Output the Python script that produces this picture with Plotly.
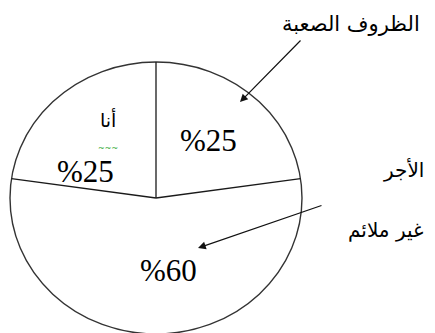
import numpy as np
import plotly.graph_objects as go

# slices, going round from the vertical line: me / hard conditions / low wage
labels = ['أنا', 'الظروف الصعبة', 'الأجر غير ملائم']
values = [25, 25, 60]
pct_labels = ['%25', '%25', '%60']

W, H = 435, 333
# where the ellipse sits in the window (pixels)
CX, CY, RX, RY = 156, 198, 146, 136


def paper(px, py):
    return px / W, 1 - py / H


total = sum(values)
spans = [v / total * 360 for v in values]
# first slice runs anticlockwise from the top, second clockwise from the top
a_left = 90 + spans[0]
a_right = 90 - spans[1]

fig = go.Figure()

# radial slice borders, in unit-circle data coords (axes stretch it to an ellipse)
for ang in [90, a_left, a_right]:
    t = np.deg2rad(ang)
    fig.add_trace(go.Scatter(
        x=[0, np.cos(t)], y=[0, np.sin(t)], mode='lines',
        line=dict(color='#1a1a1a', width=1.3),
        hoverinfo='skip', showlegend=False
    ))

fig.add_shape(type='circle', xref='x', yref='y', x0=-1, y0=-1, x1=1, y1=1,
              line=dict(color='#333333', width=1.4), layer='below')

ann = []
serif = dict(family='Liberation Serif, Times New Roman, serif', size=31, color='black')
arab = dict(family='DejaVu Sans', size=20, color='black')


def label(px, py, txt, font):
    x, y = paper(px, py)
    ann.append(dict(x=x, y=y, xref='paper', yref='paper', text=txt, showarrow=False,
                    font=font, xanchor='center', yanchor='middle', align='center'))


# percentage labels
for txt, (px, py) in zip(pct_labels, [(85, 171), (208, 140), (168, 270)]):
    label(px, py, txt, serif)

# slice names (centred: right-anchoring RTL text drifts off the page)
label(108, 119, labels[0], dict(arab, size=19))
label(108, 148, '~~~', dict(family='DejaVu Sans', size=8, color='#2fa82f'))
label(351, 24, labels[1], dict(arab, size=21))
line1, line2 = labels[2].split(' ', 1)
label(403, 170, line1, arab)
label(385, 230, line2, arab)

# arrows: tip position, tail offset in pixels
for (tx, ty), (ax, ay) in [((240, 102), (62, -63)), ((198, 248), (125, -43))]:
    x, y = paper(tx, ty)
    ann.append(dict(x=x, y=y, xref='paper', yref='paper', text='', showarrow=True,
                    ax=ax, ay=ay, arrowhead=2, arrowsize=1.3, arrowwidth=1.2,
                    arrowcolor='#111111', standoff=0))

fig.update_layout(
    width=W, height=H,
    margin=dict(l=0, r=0, t=0, b=0),
    paper_bgcolor='white', plot_bgcolor='white',
    showlegend=False,
    annotations=ann,
    xaxis=dict(range=[-CX / RX, (W - CX) / RX], visible=False, fixedrange=True),
    yaxis=dict(range=[-(H - CY) / RY, CY / RY], visible=False, fixedrange=True),
)

# page body has an 8px default margin which pushes the figure off the window
fig.write_html('out.html', config={'displayModeBar': False},
               post_script="document.body.style.margin='0';")
